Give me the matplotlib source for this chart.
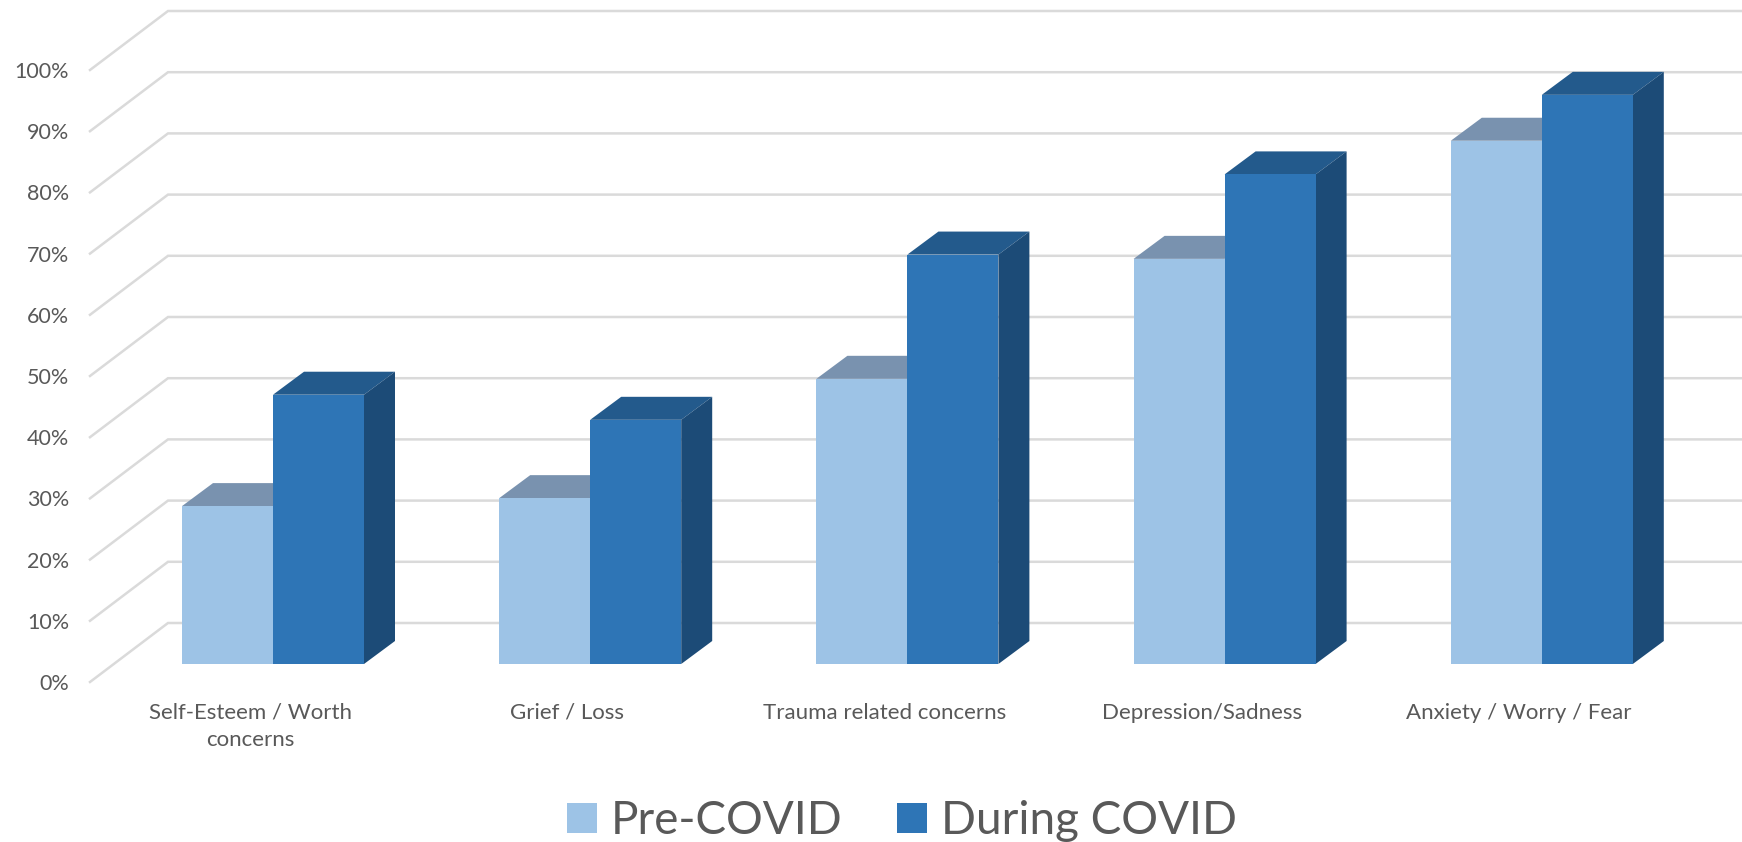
import matplotlib
matplotlib.use("Agg")
import matplotlib.pyplot as plt
from matplotlib.patches import Patch

categories = ["Self-Esteem / Worth\nconcerns", "Grief / Loss", "Trauma related concerns",
              "Depression/Sadness", "Anxiety / Worry / Fear"]
pre_covid = [25.8, 27.1, 46.6, 66.2, 85.5]
during_covid = [44.0, 39.9, 66.9, 80.0, 93.0]
y_ticks = [0, 10, 20, 30, 40, 50, 60, 70, 80, 90, 100]
series_names = ["Pre-COVID", "During COVID"]

W, H = 1742, 842
LEFT, Y0, Y100 = 90, 682, 70
X_UNIT = 317.2
Y_UNIT = (Y0 - Y100) / 100

# oblique offsets, in data units
WALL_DX, WALL_DY = 78 / X_UNIT, 59 / Y_UNIT
BAR_DX, BAR_DY = 31 / X_UNIT, 23 / Y_UNIT
BAR_BASE = 18 / Y_UNIT
BAR_W = 91 / X_UNIT
BAR_SHIFT = -68 / X_UNIT

LIGHT = ("#9DC3E6", "#7992AF", "#7992AF")
DARK = ("#2E75B6", "#235A8C", "#1C4B77")
GRID = "#DADADA"
TEXT = "#595959"

plt.rcParams["font.family"] = "Lato"


def draw_bar(ax, x, value, colors, z):
    front, top, side = colors
    y0 = BAR_BASE
    y1 = BAR_BASE + value
    ax.fill([x, x + BAR_W, x + BAR_W + BAR_DX, x + BAR_DX],
            [y1, y1, y1 + BAR_DY, y1 + BAR_DY], color=top, lw=0, zorder=z, clip_on=False)
    ax.fill([x + BAR_W, x + BAR_W + BAR_DX, x + BAR_W + BAR_DX, x + BAR_W],
            [y0, y0 + BAR_DY, y1 + BAR_DY, y1], color=side, lw=0, zorder=z, clip_on=False)
    ax.fill([x, x + BAR_W, x + BAR_W, x],
            [y0, y0, y1, y1], color=front, lw=0, zorder=z, clip_on=False)


fig = plt.figure(figsize=(W / 100, H / 100), dpi=100)
ax = fig.add_axes([LEFT / W, (H - Y0) / H, 1 - LEFT / W, (Y0 - Y100) / H])
x_min = (LEFT - 250) / X_UNIT
x_max = (W - 250) / X_UNIT
ax.set_xlim(x_min, x_max)
ax.set_ylim(0, 100)

for v in y_ticks:
    ax.plot([x_min, x_min + WALL_DX, x_max], [v, v + WALL_DY, v + WALL_DY],
            color=GRID, lw=1.8, zorder=1, clip_on=False, solid_joinstyle="miter")

for i in range(len(categories)):
    draw_bar(ax, i + BAR_SHIFT, pre_covid[i], LIGHT, 2 + i)
    draw_bar(ax, i + BAR_SHIFT + BAR_W, during_covid[i], DARK, 2 + i + 0.5)

ax.set_xticks(range(len(categories)))
ax.set_xticklabels(categories, fontsize=16, color=TEXT, linespacing=1.45)
ax.set_yticks(y_ticks)
ax.set_yticklabels([f"{v}%" for v in y_ticks], fontsize=15.5, color=TEXT)
ax.tick_params(axis="both", length=0)
ax.tick_params(axis="x", pad=15)
ax.tick_params(axis="y", pad=15)
for s in ax.spines.values():
    s.set_visible(False)
ax.patch.set_alpha(0)

handles = [Patch(color=LIGHT[0], lw=0), Patch(color=DARK[0], lw=0)]
fig.legend(handles, series_names, loc="lower center", bbox_to_anchor=(902 / W, 0.0),
           ncols=2, frameon=False, fontsize=33, labelcolor=TEXT,
           handlelength=0.65, handleheight=0.65, handletextpad=0.3, columnspacing=1.2,
           borderpad=0, borderaxespad=0)

fig.savefig("out.png", dpi=100)
